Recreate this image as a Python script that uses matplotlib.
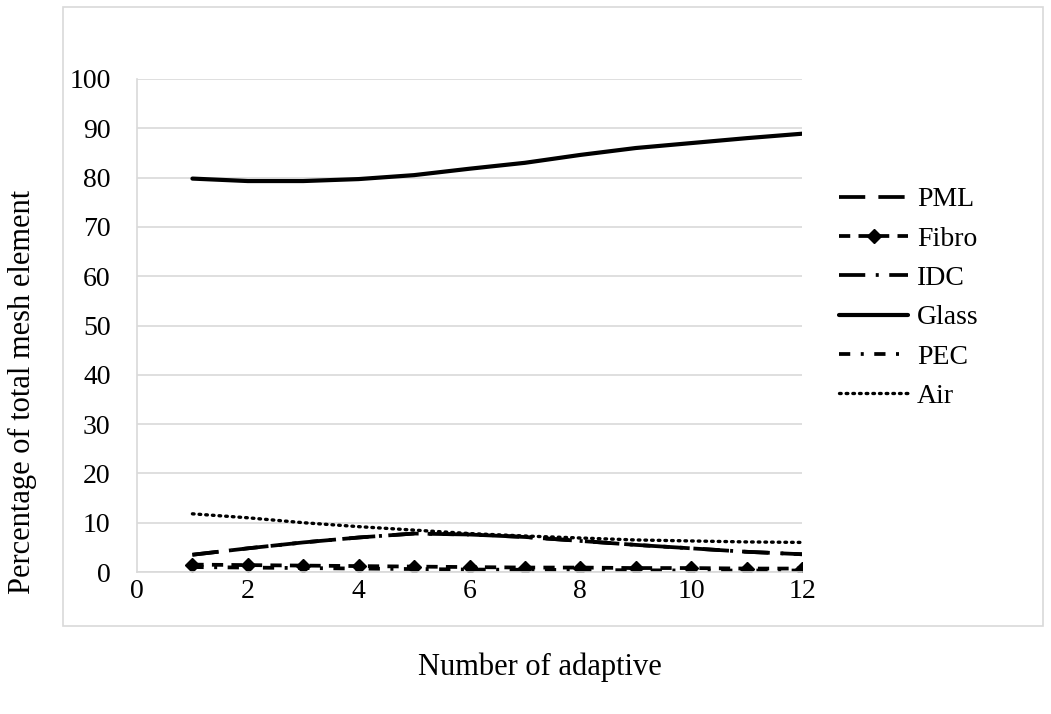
import matplotlib.pyplot as plt
from matplotlib.patches import Rectangle

plt.rcParams["font.family"] = ["Liberation Serif", "DejaVu Serif"]

adaptive = [1, 2, 3, 4, 5, 6, 7, 8, 9, 10, 11, 12]
pml = [3.5, 4.8, 6.0, 7.0, 7.8, 7.6, 7.1, 6.3, 5.5, 4.8, 4.1, 3.6]
fibro = [1.5, 1.4, 1.3, 1.2, 1.1, 1.0, 0.9, 0.9, 0.8, 0.8, 0.7, 0.7]
idc = [3.5, 4.8, 6.0, 7.0, 7.8, 7.6, 7.1, 6.3, 5.5, 4.8, 4.1, 3.6]
glass = [79.8, 79.3, 79.3, 79.7, 80.5, 81.8, 83.0, 84.6, 86.0, 87.0, 88.0, 88.9]
pec = [1.0, 0.9, 0.8, 0.7, 0.6, 0.5, 0.45, 0.4, 0.35, 0.3, 0.3, 0.3]
air = [11.8, 11.0, 10.0, 9.2, 8.5, 7.8, 7.3, 6.9, 6.5, 6.3, 6.1, 6.0]

x_ticks = [0, 2, 4, 6, 8, 10, 12]
y_ticks = [0, 10, 20, 30, 40, 50, 60, 70, 80, 90, 100]

grid_col = "#d9d9d9"
fs = 20
title_fs = 22

fig = plt.figure(figsize=(10.51, 7.14), dpi=100)
ax = fig.add_axes([137 / 1051, 1 - 572 / 714, 665 / 1051, 493 / 714])

# chart area border
fig.patches.append(Rectangle((63 / 1051, 1 - 626 / 714), 980 / 1051, 619 / 714,
                             transform=fig.transFigure, fill=False,
                             edgecolor=grid_col, linewidth=1.2))

lw = 2.7
ax.plot(adaptive, pml, color="black", lw=lw, linestyle=(0, (7, 3.5)), label="PML")
ax.plot(adaptive, fibro, color="black", lw=lw, linestyle=(0, (3, 2.2)),
        marker="D", markersize=7.5, label="Fibro")
ax.plot(adaptive, idc, color="black", lw=lw, linestyle=(0, (7, 2.8, 0.8, 2.8)), label="IDC")
ax.plot(adaptive, glass, color="black", lw=3.0, solid_capstyle="round", label="Glass")
ax.plot(adaptive, pec, color="black", lw=lw, linestyle=(0, (3, 2.8, 0.8, 2.8)), label="PEC")
ax.plot(adaptive, air, color="black", lw=2.4, linestyle=(0, (0.5, 1.5)),
        dash_capstyle="round", label="Air")

ax.set_xlim(0, 12)
ax.set_ylim(0, 100)
ax.set_xticks(x_ticks)
ax.set_yticks(y_ticks)
ax.tick_params(length=0, labelsize=fs)
ax.tick_params(axis="y", pad=19)
ax.tick_params(axis="x", pad=5)
ax.yaxis.grid(True, color=grid_col, linewidth=1.2)
ax.set_axisbelow(True)
for side in ["top", "right"]:
    ax.spines[side].set_visible(False)
for side in ["left", "bottom"]:
    ax.spines[side].set_color(grid_col)
    ax.spines[side].set_linewidth(1.2)

fig.text(540 / 1051, 1 - 667 / 714, "Number of adaptive", ha="center", va="center",
         fontsize=title_fs)
fig.text(22 / 1051, 1 - 392 / 714, "Percentage of total mesh element", ha="center",
         va="center", rotation=90, fontsize=title_fs)

ax.legend(loc="upper left", bbox_to_anchor=(839 / 1051, 1 - 187 / 714),
          bbox_transform=fig.transFigure, frameon=False, fontsize=fs,
          handlelength=2.5, handletextpad=0.3, labelspacing=0.5, borderpad=0,
          borderaxespad=0)

fig.savefig("out.png", dpi=100)
